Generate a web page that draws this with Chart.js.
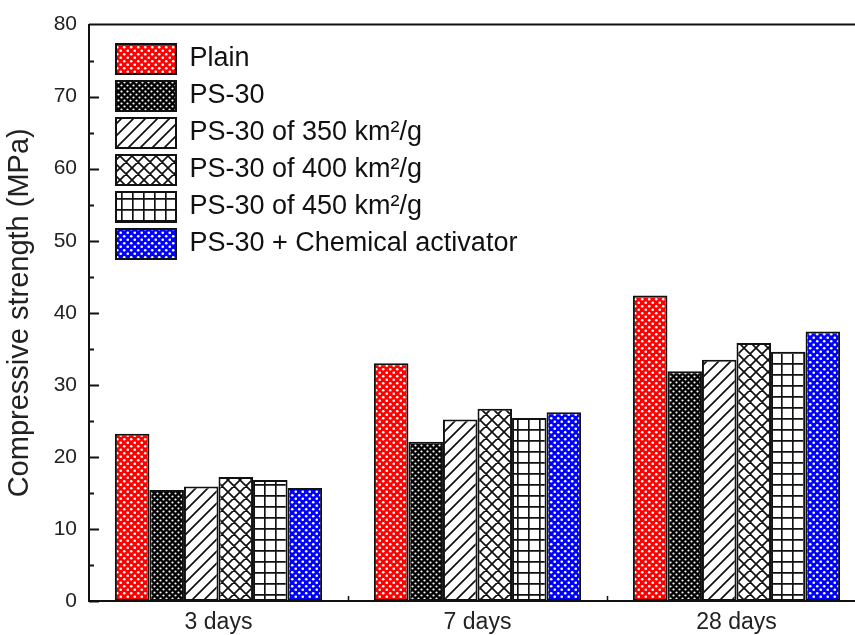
<!DOCTYPE html>
<html>
<head>
<meta charset="utf-8">
<script src="https://cdn.jsdelivr.net/npm/chart.js@4.4.0/dist/chart.umd.min.js"></script>
<style>
  body { margin: 0; background: #fff; }
  #wrap { width: 855px; height: 635px; overflow: hidden; }
  canvas { display: block; }
</style>
</head>
<body>
<div id="wrap"><canvas id="strengthChart" width="868" height="635"></canvas></div>
<script>
// curing ages and compressive strength (MPa) per mix
const ages = ["3 days", "7 days", "28 days"];
const plain = [23.2, 33.0, 42.4];
const ps30 = [15.4, 22.1, 31.9];
const ps30_350 = [15.9, 25.2, 33.5];
const ps30_400 = [17.2, 26.7, 35.8];
const ps30_450 = [16.8, 25.4, 34.6];
const ps30_chem = [15.7, 26.2, 37.4];
const mixNames = [
    "Plain",
    "PS-30",
    "PS-30 of 350 km²/g",
    "PS-30 of 400 km²/g",
    "PS-30 of 450 km²/g",
    "PS-30 + Chemical activator"
];

const FONT = "'Liberation Sans', Arial, sans-serif";
const INK = "#111";

function makeTile(size, draw){
    let c = document.createElement("canvas");
    c.width = size;
    c.height = size;
    let g = c.getContext("2d");
    draw(g, size);
    return document.createElement("canvas").getContext("2d").createPattern(c, "repeat");
}

// coloured background with staggered white dots
function dots(color, size, r){
    return makeTile(size, (g, s) => {
        g.fillStyle = color;
        g.fillRect(0, 0, s, s);
        g.fillStyle = "#fff";
        [[s / 4, s / 4], [s * 3 / 4, s * 3 / 4]].forEach(p => {
            g.beginPath();
            g.arc(p[0], p[1], r, 0, Math.PI * 2);
            g.fill();
        });
    });
}

function hatch(size, kind){
    return makeTile(size, (g, s) => {
        g.fillStyle = "#fff";
        g.fillRect(0, 0, s, s);
        g.strokeStyle = INK;
        g.lineWidth = 1.7;
        g.beginPath();
        if (kind === "slash" || kind === "cross"){
            g.moveTo(-1, s + 1); g.lineTo(s + 1, -1);
            g.moveTo(-2, 2); g.lineTo(2, -2);
            g.moveTo(s - 2, s + 2); g.lineTo(s + 2, s - 2);
        }
        if (kind === "cross"){
            g.moveTo(-1, -1); g.lineTo(s + 1, s + 1);
            g.moveTo(s - 2, -2); g.lineTo(s + 2, 2);
            g.moveTo(-2, s - 2); g.lineTo(2, s + 2);
        }
        if (kind === "grid"){
            g.moveTo(0.8, 0); g.lineTo(0.8, s);
            g.moveTo(0, 0.8); g.lineTo(s, 0.8);
        }
        g.stroke();
    });
}

const fills = [
    dots("#ff0000", 7, 1.3),
    dots("#000000", 6, 1.1),
    hatch(12, "slash"),
    hatch(12, "cross"),
    hatch(11, "grid"),
    dots("#0000ff", 7, 1.3)
];
const series = [plain, ps30, ps30_350, ps30_400, ps30_450, ps30_chem];

// top frame line plus inward ticks on both axes
const frameTicks = {
    id: "frameTicks",
    afterLayout(chart){
        // nudge the legend into the upper-left corner of the plot
        chart.legend.left += 20;
        chart.legend.top += 37;
    },
    afterDraw(chart){
        const {ctx, chartArea, scales} = chart;
        ctx.save();
        ctx.strokeStyle = INK;
        ctx.lineWidth = 2;
        ctx.beginPath();
        ctx.moveTo(chartArea.left, chartArea.top);
        ctx.lineTo(chartArea.right, chartArea.top);
        for (let v = 0; v < 80; v += 5){
            let y = Math.round(scales.y.getPixelForValue(v)) + 0.5;
            let len = v % 10 === 0 ? 10 : 5;
            ctx.moveTo(chartArea.left, y);
            ctx.lineTo(chartArea.left + len, y);
        }
        ctx.stroke();
        ctx.lineWidth = 1.5;
        ctx.beginPath();
        let step = scales.x.getPixelForValue(1) - scales.x.getPixelForValue(0);
        for (let i = 0; i < ages.length; i++){
            let x = Math.round(scales.x.getPixelForValue(i) + step / 2) + 0.5;
            ctx.moveTo(x, chartArea.bottom);
            ctx.lineTo(x, chartArea.bottom - 5);
        }
        ctx.stroke();
        ctx.restore();
    }
};

const ctx = document.getElementById("strengthChart").getContext("2d");
const strengthChart = new Chart(ctx, {
    type: "bar",
    data: {
        labels: ages,
        datasets: series.map((vals, i) => ({
            label: mixNames[i],
            data: vals,
            backgroundColor: fills[i],
            borderColor: INK,
            borderWidth: 2,
            borderSkipped: false,
            categoryPercentage: 0.8,
            barPercentage: 1.0
        }))
    },
    options: {
        responsive: false,
        animation: false,
        layout: { padding: { top: 24, right: 2, bottom: 0, left: 0 } },
        plugins: {
            tooltip: { enabled: false },
            legend: {
                position: "chartArea",
                align: "start",
                labels: {
                    boxWidth: 60,
                    boxHeight: 30,
                    padding: 7,
                    color: INK,
                    font: { family: FONT, size: 27 }
                }
            }
        },
        scales: {
            x: {
                grid: { display: false, drawTicks: false },
                border: { display: true, color: INK, width: 2 },
                ticks: { color: "#222", padding: 8, font: { family: FONT, size: 23 } },
                afterFit: (scale) => { scale.height = 34; }
            },
            y: {
                min: 0,
                max: 80,
                grid: { display: false, drawTicks: false },
                border: { display: true, color: INK, width: 2 },
                ticks: { stepSize: 10, color: "#222", padding: 12, font: { family: FONT, size: 21 } },
                title: {
                    display: true,
                    text: "Compressive strength (MPa)",
                    color: "#222",
                    padding: { top: 3, bottom: 0 },
                    font: { family: FONT, size: 29 }
                },
                afterFit: (scale) => { scale.width = 89; }
            }
        }
    },
    plugins: [frameTicks]
});
</script>
</body>
</html>
